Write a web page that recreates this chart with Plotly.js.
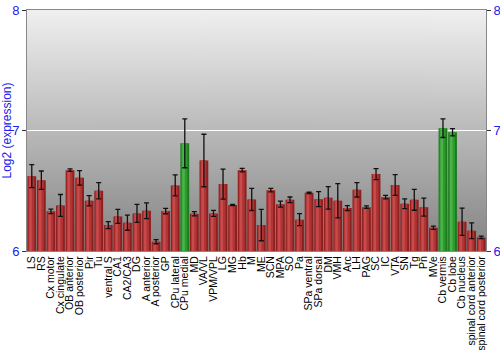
<!DOCTYPE html>
<html>
<head>
<meta charset="utf-8">
<script src="https://cdn.plot.ly/plotly-3.0.1.min.js"></script>
<style>html,body{margin:0;padding:0;background:#fff;}#chart{width:500px;height:350px;}</style>
</head>
<body>
<div id="chart"></div>
<script>
const regions = ["LS","RS","Cx motor","Cx cingulate","OB anterior","OB posterior","Pir","Tu","ventral S","CA1","CA2/CA3","DG","A anterior","A posterior","GP","CPu lateral","CPu medial","MD","VA/VL","VPM/VPL","LG","MG","Hb","M","ME","SCN","MPA","SO","Pa","SPa ventral","SPa dorsal","DM","VMH","Arc","LH","PAG","SC","IC","VTA","SN","Tg","Pn","MVe","Cb vermis","Cb lobe","Cb nucleus","spinal cord anterior","spinal cord posterior"];
const expression = [6.621,6.588,6.329,6.378,6.671,6.607,6.417,6.500,6.215,6.287,6.235,6.312,6.334,6.077,6.331,6.544,6.894,6.309,6.751,6.312,6.555,6.381,6.671,6.428,6.215,6.505,6.389,6.425,6.260,6.483,6.430,6.441,6.417,6.356,6.508,6.364,6.638,6.447,6.547,6.392,6.425,6.364,6.193,7.019,6.986,6.243,6.168,6.113];
const errors = [0.095,0.076,0.019,0.091,0.010,0.060,0.043,0.068,0.029,0.058,0.063,0.075,0.066,0.017,0.022,0.087,0.203,0.017,0.218,0.025,0.124,0.005,0.015,0.092,0.130,0.015,0.025,0.023,0.050,0.006,0.062,0.094,0.142,0.020,0.060,0.011,0.046,0.015,0.086,0.040,0.087,0.075,0.014,0.077,0.030,0.113,0.066,0.011];
const highlighted = ["CPu medial","Cb vermis","Cb lobe"];

const isG = regions.map(r => highlighted.includes(r));
const edgeC = isG.map(g => g ? "#1e7a1e" : "#8c1f1f");
const midC  = isG.map(g => g ? "#2e9a2e" : "#b03434");
const hiC   = isG.map(g => g ? "#48b548" : "#c94a4a");

// vertical gray gradient background
const cv = document.createElement("canvas");
cv.width = 4; cv.height = 256;
const ctx = cv.getContext("2d");
const grd = ctx.createLinearGradient(0,0,0,256);
grd.addColorStop(0, "#f0f0f0");
grd.addColorStop(1, "#838383");
ctx.fillStyle = grd; ctx.fillRect(0,0,4,256);
const bgURL = cv.toDataURL("image/png");

const traces = [
  {type:"bar", x:regions, y:expression, width:0.92, marker:{color:edgeC, line:{width:0}}, hoverinfo:"skip"},
  {type:"bar", x:regions, y:expression, width:0.62, offset:-0.36, marker:{color:midC, line:{width:0}}, hoverinfo:"skip"},
  {type:"bar", x:regions, y:expression, width:0.26, offset:-0.26, marker:{color:hiC, line:{width:0}}, hoverinfo:"skip"},
  {type:"scatter", mode:"markers", x:regions, y:expression, marker:{opacity:0, size:1},
   error_y:{type:"data", array:errors, visible:true, color:"#111", thickness:1.3, width:2.5}},
  {type:"scatter", x:[], y:[], yaxis:"y2", showlegend:false}
];

const blue = "#2020f0";
const layout = {
  width:500, height:350,
  margin:{l:27, r:14, t:10, b:99},
  paper_bgcolor:"#ffffff",
  plot_bgcolor:"rgba(0,0,0,0)",
  barmode:"overlay",
  showlegend:false,
  font:{family:"Liberation Sans, Arial, sans-serif"},
  images:[{source:bgURL, xref:"paper", yref:"paper", x:0, y:1, sizex:1, sizey:1, sizing:"stretch", layer:"below"}],
  xaxis:{type:"category", range:[-0.5,47.5], tickmode:"linear", tick0:0, dtick:1, tickangle:-90,
         tickfont:{size:10.5, color:"#000"},
         showline:true, linecolor:"#888", linewidth:1, mirror:true, ticks:"", showgrid:false, automargin:false},
  yaxis:{range:[6,8], dtick:1, tick0:6, tickfont:{size:13, color:blue}, ticks:"outside", ticklen:4, tickcolor:"#333",
         showline:true, linecolor:"#888", showgrid:true, gridcolor:"#ffffff", gridwidth:1.5, zeroline:false,
         title:{text:"Log2 (expression)", font:{size:12, color:blue}, standoff:4}, automargin:false},
  yaxis2:{range:[6,8], dtick:1, tick0:6, overlaying:"y", side:"right", tickfont:{size:13, color:blue},
          ticks:"outside", ticklen:4, tickcolor:"#333", showline:true, linecolor:"#888", showgrid:false, zeroline:false}
};

Plotly.newPlot("chart", traces, layout, {displayModeBar:false, staticPlot:true});
</script>
</body>
</html>
